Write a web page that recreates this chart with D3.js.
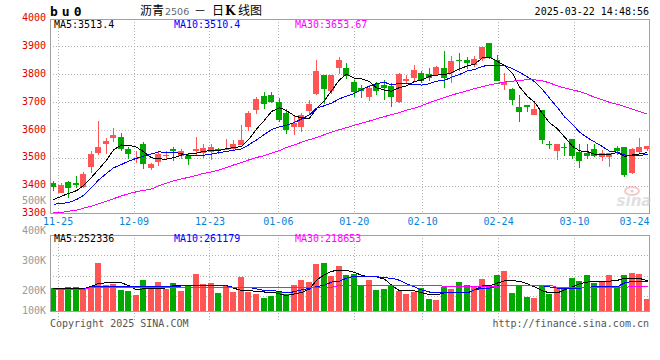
<!DOCTYPE html>
<html><head><meta charset="utf-8">
<script src="https://cdn.jsdelivr.net/npm/d3@7/dist/d3.min.js"></script>
<style>
html,body{margin:0;padding:0;background:#fff;}
svg{display:block;}
text{font-family:"DejaVu Sans Mono","Liberation Mono",monospace;font-size:10px;}
</style></head><body>
<svg id="c" width="660" height="360"></svg>
<script>
// ---------- data ----------
const dates = ["11-22","11-25","11-26","11-27","11-28","11-29","12-02","12-03","12-04","12-05",
"12-06","12-09","12-10","12-11","12-12","12-13","12-16","12-17","12-18","12-19",
"12-20","12-23","12-24","12-25","12-26","12-27","12-30","12-31","01-02","01-03",
"01-06","01-07","01-08","01-09","01-10","01-13","01-14","01-15","01-16","01-17",
"01-20","01-21","01-22","01-23","01-24","01-27","02-05","02-06","02-07","02-10",
"02-11","02-12","02-13","02-14","02-17","02-18","02-19","02-20","02-21","02-24",
"02-25","02-26","02-27","02-28","03-03","03-04","03-05","03-06","03-07","03-10",
"03-11","03-12","03-13","03-14","03-17","03-18","03-19","03-20","03-21","03-24"];
const openP = [3408,3375,3413,3408,3394,3466,3518,3549,3570,3573,
3531,3494,3550,3464,3486,3506,3533,3508,3506,3525,
3518,3520,3530,3530,3532,3545,3609,3673,3723,3727,
3699,3661,3611,3611,3669,3730,3798,3740,3824,3822,
3772,3752,3717,3765,3760,3758,3699,3774,3786,3804,
3800,3798,3822,3804,3852,3852,3834,3855,3912,3851,
3761,3747,3684,3688,3655,3673,3550,3524,3539,3568,
3521,3518,3533,3504,3504,3536,3538,3444,3521,3532];
const highP = [3416,3408,3416,3434,3450,3526,3633,3571,3607,3589,
3539,3523,3557,3482,3526,3523,3539,3532,3512,3573,
3551,3551,3536,3569,3563,3618,3667,3717,3737,3737,
3715,3675,3655,3661,3708,3851,3798,3798,3863,3842,
3780,3762,3762,3772,3780,3768,3804,3798,3834,3810,
3822,3828,3884,3866,3875,3860,3866,3899,3912,3869,
3804,3752,3726,3690,3699,3673,3559,3551,3553,3568,
3548,3548,3548,3527,3518,3541,3538,3536,3570,3544];
const lowP = [3381,3372,3356,3391,3391,3446,3509,3514,3556,3526,
3494,3480,3459,3457,3470,3496,3487,3494,3474,3506,
3500,3491,3512,3527,3524,3545,3595,3657,3675,3695,
3627,3587,3583,3593,3652,3726,3694,3730,3800,3782,
3720,3715,3705,3726,3708,3682,3697,3766,3774,3770,
3774,3794,3752,3770,3810,3820,3826,3849,3856,3776,
3742,3690,3627,3663,3655,3548,3530,3491,3506,3496,
3464,3494,3502,3488,3466,3511,3431,3441,3515,3525];
const closeP = [3394,3401,3391,3401,3443,3515,3538,3559,3583,3533,
3514,3499,3479,3476,3514,3509,3524,3526,3496,3531,
3536,3539,3524,3533,3548,3563,3659,3712,3692,3702,
3637,3601,3625,3652,3694,3810,3748,3798,3851,3794,
3735,3738,3750,3738,3752,3717,3801,3784,3816,3776,
3786,3825,3788,3848,3849,3842,3855,3899,3858,3776,
3772,3708,3663,3682,3676,3565,3545,3551,3536,3506,
3488,3508,3508,3518,3518,3524,3438,3530,3539,3544];
const ma5 = [3350,3362,3372,3382,3400,3430,3458,3491,3528,3546,
3545,3538,3522,3500,3496,3495,3500,3510,3514,3517,
3523,3526,3525,3533,3536,3541,3565,3603,3635,3666,
3680,3669,3651,3643,3642,3676,3706,3740,3780,3800,
3785,3783,3774,3751,3743,3739,3752,3758,3774,3779,
3793,3797,3798,3805,3819,3830,3836,3859,3861,3846,
3832,3803,3755,3720,3700,3659,3626,3604,3575,3541,
3525,3522,3513,3510,3512,3519,3505,3510,3514,3519];
const ma10 = [3333,3336,3339,3350,3365,3393,3420,3444,3464,3476,
3488,3498,3506,3514,3521,3520,3519,3516,3507,3507,
3509,3513,3518,3523,3527,3532,3546,3564,3584,3601,
3611,3617,3627,3639,3654,3678,3687,3696,3712,3721,
3731,3745,3757,3766,3771,3762,3767,3766,3763,3761,
3766,3775,3778,3789,3799,3812,3817,3828,3833,3833,
3831,3820,3807,3790,3773,3745,3714,3680,3647,3620,
3592,3572,3557,3540,3524,3520,3510,3507,3508,3512];
const ma30 = [3303,3304,3308,3312,3319,3326,3335,3344,3353,3363,
3371,3378,3383,3388,3399,3409,3417,3424,3430,3437,
3444,3449,3456,3465,3474,3483,3492,3501,3508,3517,
3526,3537,3546,3556,3565,3573,3583,3592,3601,3608,
3617,3624,3632,3640,3648,3655,3662,3671,3678,3687,
3698,3707,3716,3725,3733,3741,3748,3755,3762,3767,
3772,3775,3778,3780,3780,3776,3769,3758,3751,3744,
3738,3728,3717,3708,3699,3692,3684,3674,3666,3657];
// volume in thousands (K)
const volume = [209,201,213,213,203,213,294,219,223,203,
200,187,236,213,229,207,226,200,216,255,
223,226,194,216,197,245,197,190,177,184,
197,190,219,236,229,290,294,248,284,252,
255,216,236,203,207,216,200,190,197,209,
174,168,211,207,229,219,214,239,219,252,
265,194,219,181,177,216,190,211,211,241,
232,252,226,230,252,216,252,259,255,174];
const volMa5 = [209,208,206,206,207,215,224,227,227,226,
218,203,207,207,207,210,217,217,217,217,
218,218,218,218,209,201,201,198,196,196,
190,184,190,194,206,235,254,265,268,268,
261,252,246,246,239,219,200,200,200,194,
187,187,193,193,193,193,203,216,216,226,
233,233,232,223,213,200,193,193,203,213,
223,229,232,232,232,235,241,241,241,234];
const volMa10 = [205,205,205,205,205,213,213,214,214,214,
214,214,214,214,214,214,214,216,216,216,
216,216,216,216,212,212,212,206,201,201,
198,193,197,203,208,214,218,229,232,242,
249,249,249,247,243,242,235,223,213,203,
196,196,195,194,194,194,203,209,209,216,
219,219,219,219,217,217,213,209,209,209,
209,211,214,214,214,214,226,232,232,232];
const volMa30 = [204,204,204,204,204,212,212,212,212,212,
212,212,212,212,212,212,212,212,212,212,
212,212,212,212,211,211,211,211,211,211,
211,211,211,211,211,211,211,211,218,218,
218,218,218,218,218,218,218,218,218,218,
218,218,215,215,215,215,215,215,215,215,
219,219,219,219,219,219,219,211,211,211,
211,211,211,211,211,211,211,215,215,215];
const priceTicks = [3300,3400,3500,3600,3700,3800,3900,4000];
const volTicks = [100,200,300,400,500];
const dateTicks = ["11-25","12-09","12-23","01-06","01-20","02-10","02-24","03-10","03-24"];
const symbol = "bu0";
const titleParts = ["沥青","2506","－","日","K","线图"];
const stamp = "2025-03-22 14:48:56";
const maLabels = ["MA5:3513.4","MA10:3510.4","MA30:3653.67"];
const volMaLabels = ["MA5:252336","MA10:261179","MA30:218653"];

// ---------- layout ----------
const L = 50, R = 650;
const mTop = 19, mBot = 213, vTop = 235, vBot = 311;
const UP = "#ff5555", DOWN = "#00a800";
const GRID = "#b4b4b4", BORDER = "#a0a0a0";
const lineCols = ["#000000", "#0000ff", "#ff00ff"];

const svg = d3.select("#c");
const x = d3.scaleBand().domain(dates).range([L, R]).paddingInner(0.2).paddingOuter(0).align(0);
const gx = d3.scalePoint().domain(dates).range([L, R]);
const y = d3.scaleLinear().domain([3300, 4000]).range([213.5, 18.5]);
const vy = d3.scaleLinear().domain([0, 500]).range([351, 200.5]);
const px = i => Math.round(x(dates[i]));

const defs = svg.append("defs");
defs.append("clipPath").attr("id", "cm").append("rect").attr("x", L).attr("y", mTop).attr("width", R - L).attr("height", mBot - mTop);
defs.append("clipPath").attr("id", "cv").append("rect").attr("x", L).attr("y", vTop).attr("width", R - L).attr("height", vBot - vTop);

// ---------- grids ----------
const grid = svg.append("g").attr("stroke", GRID).attr("stroke-dasharray", "1,2").attr("shape-rendering", "crispEdges");
priceTicks.filter(v => v > 3300 && v < 4000).forEach(v => {
  const yy = Math.round(y(v)) + 0.5;
  grid.append("line").attr("x1", L).attr("x2", R).attr("y1", yy).attr("y2", yy);
});
dateTicks.slice(0, -1).forEach(d => {
  const xx = Math.round(gx(d)) + 0.5;
  grid.append("line").attr("x1", xx).attr("x2", xx).attr("y1", mTop).attr("y2", mBot);
  grid.append("line").attr("x1", xx).attr("x2", xx).attr("y1", vTop).attr("y2", vBot + 10);
});
[1, 2, 3].forEach(k => {
  const yy = Math.round(vTop + k * 20.4) + 0.5;
  grid.append("line").attr("x1", L).attr("x2", R).attr("y1", yy).attr("y2", yy);
});

// ---------- candles ----------
const cg = svg.append("g").attr("clip-path", "url(#cm)").attr("shape-rendering", "crispEdges");
dates.forEach((d, i) => {
  const up = closeP[i] >= openP[i];
  const col = up ? UP : DOWN;
  const x0 = px(i);
  const yh = Math.round(y(highP[i])), yl = Math.round(y(lowP[i]));
  const yt = Math.round(y(Math.max(openP[i], closeP[i]))), yb = Math.round(y(Math.min(openP[i], closeP[i])));
  cg.append("rect").attr("x", x0 + 3).attr("y", yh).attr("width", 1).attr("height", Math.max(1, yl - yh)).attr("fill", col);
  cg.append("rect").attr("x", x0).attr("y", yt).attr("width", 6).attr("height", Math.max(1, yb - yt)).attr("fill", col);
});

// ---------- MA lines ----------
const mline = d3.line().x((v, i) => px(i) + 3.5).y(v => y(v));
[ma5, ma10, ma30].forEach((arr, k) => {
  svg.append("path").attr("clip-path", "url(#cm)").attr("d", mline(arr)).attr("fill", "none")
    .attr("stroke", lineCols[k]).attr("stroke-width", 1).attr("shape-rendering", "crispEdges");
});

// ---------- volume ----------
const vg = svg.append("g").attr("clip-path", "url(#cv)").attr("shape-rendering", "crispEdges");
volume.forEach((v, i) => {
  const up = closeP[i] >= openP[i];
  const top = Math.round(vy(v));
  vg.append("rect").attr("x", px(i)).attr("y", top).attr("width", 6).attr("height", vBot - top)
    .attr("fill", up ? UP : DOWN);
});
const vline = d3.line().x((v, i) => px(i) + 3.5).y(v => vy(v));
[volMa5, volMa10, volMa30].forEach((arr, k) => {
  svg.append("path").attr("clip-path", "url(#cv)").attr("d", vline(arr)).attr("fill", "none")
    .attr("stroke", lineCols[k]).attr("stroke-width", 1).attr("shape-rendering", "crispEdges");
});

// ---------- borders ----------
svg.append("rect").attr("x", L + 0.5).attr("y", mTop + 0.5).attr("width", R - L - 1).attr("height", mBot - mTop)
  .attr("fill", "none").attr("stroke", BORDER).attr("shape-rendering", "crispEdges");
svg.append("rect").attr("x", L + 0.5).attr("y", vTop + 0.5).attr("width", R - L - 1).attr("height", vBot - vTop)
  .attr("fill", "none").attr("stroke", BORDER).attr("shape-rendering", "crispEdges");

// ---------- axes ----------
const ya = svg.append("g").attr("transform", `translate(${L},0)`)
  .call(d3.axisLeft(y).tickValues(priceTicks).tickSize(0).tickPadding(4).tickFormat(d3.format("d")));
ya.select(".domain").remove();
ya.selectAll("text").attr("fill", "#e00000").attr("dy", "0.22em").style("font-size", "10px").style("font-family", "DejaVu Sans Mono");

const va = svg.append("g").attr("transform", `translate(${L},0)`)
  .call(d3.axisLeft(vy).tickValues(volTicks).tickSize(0).tickPadding(4).tickFormat(d => d + "K"));
va.select(".domain").remove();
va.selectAll(".tick").attr("transform", d => `translate(0,${Math.min(vy(d), vBot)})`);
va.selectAll("text").attr("fill", "#999999").attr("dy", "0.32em").style("font-size", "10px").style("font-family", "DejaVu Sans Mono");

const xa = svg.append("g").attr("transform", `translate(0,${mBot})`)
  .call(d3.axisBottom(gx).tickValues(dateTicks).tickSize(0).tickPadding(5));
xa.select(".domain").remove();
xa.selectAll("text").attr("fill", "#0a7fd8").style("font-size", "10px").style("font-family", "DejaVu Sans Mono")
  .attr("text-anchor", d => d === dateTicks[dateTicks.length - 1] ? "end" : "middle")
  .attr("x", d => d === dateTicks[dateTicks.length - 1] ? -1 : 0);

// ---------- header ----------
svg.append("text").attr("x", 50).attr("y", 16).text(symbol)
  .style("font-size", "13px").style("font-weight", "bold").style("letter-spacing", "4px").attr("fill", "#000");
const tt = svg.append("text").attr("y", 15).style("font-family", "'Noto Sans CJK SC',sans-serif").style("font-size", "12px").attr("fill", "#000");
const tx = [140, 165, 194, 212, 225, 238];
titleParts.forEach((t, i) => {
  const s = tt.append("tspan").attr("x", tx[i]).text(t);
  if (i === 1) s.style("font-family", "'DejaVu Sans',sans-serif").style("font-size", "9.5px").attr("fill", "#666");
  if (i === 4) s.style("font-weight", "bold").style("font-family", "'DejaVu Serif',serif");
});
svg.append("text").attr("x", 649).attr("y", 15).attr("text-anchor", "end").text(stamp).attr("fill", "#000");

const lx = [54, 174, 295];
maLabels.forEach((t, k) => svg.append("text").attr("x", lx[k]).attr("y", 27.5).text(t).attr("fill", lineCols[k]));
volMaLabels.forEach((t, k) => svg.append("text").attr("x", lx[k]).attr("y", 242).text(t).attr("fill", lineCols[k]));

svg.append("text").attr("x", 50).attr("y", 327).text("Copyright 2025 SINA.COM").attr("fill", "#555");
svg.append("text").attr("x", 649).attr("y", 327).attr("text-anchor", "end").text("http://finance.sina.com.cn").attr("fill", "#555");

// watermark
const wm = svg.append("g").attr("opacity", 0.55);
wm.append("ellipse").attr("cx", 632).attr("cy", 191).attr("rx", 7).attr("ry", 4).attr("fill", "none").attr("stroke", "#f0a0a0").attr("stroke-width", 2);
wm.append("circle").attr("cx", 632).attr("cy", 191).attr("r", 1.6).attr("fill", "#f0a0a0");
wm.append("text").attr("x", 634).attr("y", 206).attr("text-anchor", "middle").text("sina")
  .style("font-family", "'DejaVu Sans',sans-serif").style("font-size", "15px").style("font-weight", "bold").style("font-style", "italic").attr("fill", "#c8c8c8");
</script>
</body></html>
